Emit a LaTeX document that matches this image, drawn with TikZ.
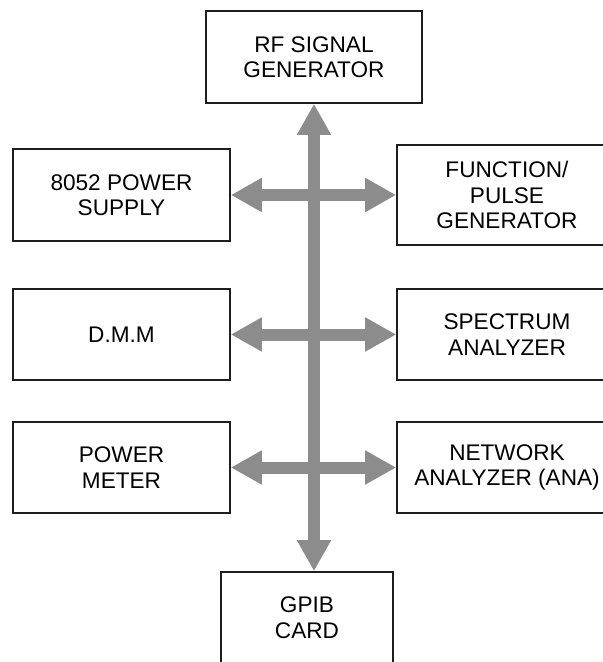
\documentclass[tikz,border=0pt]{standalone}
\usepackage{fontspec}
\setmainfont{Liberation Sans}
\usetikzlibrary{arrows.meta}
\definecolor{busgray}{RGB}{140,140,140}
\definecolor{boxline}{RGB}{30,30,30}
\tikzset{
  unit/.style={draw=boxline, line width=1.6pt, fill=white, inner sep=0pt,
    align=center, font=\fontsize{22.6}{25.5}\selectfont, text=black},
  bus/.style={draw=busgray, line width=12pt,
    {Triangle[length=31pt,width=32pt]}-{Triangle[length=31pt,width=32pt]}}
}
\begin{document}
\begin{tikzpicture}[x=1pt,y=-1pt]
\clip (0,0) rectangle (603,662);
\fill[white] (0,0) rectangle (603,662);
\node[unit, minimum width=216pt, minimum height=92pt] (rf) at (314,57) {RF SIGNAL\\GENERATOR};
\node[unit, minimum width=217pt, minimum height=92pt] (ps) at (121.5,195) {8052 POWER\\SUPPLY};
\node[unit, minimum width=220pt, minimum height=100pt] (fg) at (507,195) {FUNCTION/\\PULSE\\GENERATOR};
\node[unit, minimum width=217pt, minimum height=91pt] (dmm) at (121.5,334.5) {D.M.M};
\node[unit, minimum width=220pt, minimum height=91pt] (sa) at (507,334.5) {SPECTRUM\\ANALYZER};
\node[unit, minimum width=217pt, minimum height=91pt] (pm) at (121.5,467.5) {POWER\\METER};
\node[unit, minimum width=220pt, minimum height=91pt] (na) at (507,467.5) {NETWORK\\ANALYZER (ANA)};
\node[unit, minimum width=172pt, minimum height=91pt] (gpib) at (307,617.5) {GPIB\\CARD};
\draw[bus] (ps.east) -- (fg.west);
\draw[bus] (dmm.east) -- (sa.west);
\draw[bus] (pm.east) -- (na.west);
\draw[bus] (rf.south) -- (rf.south |- gpib.north);
\end{tikzpicture}
\end{document}
